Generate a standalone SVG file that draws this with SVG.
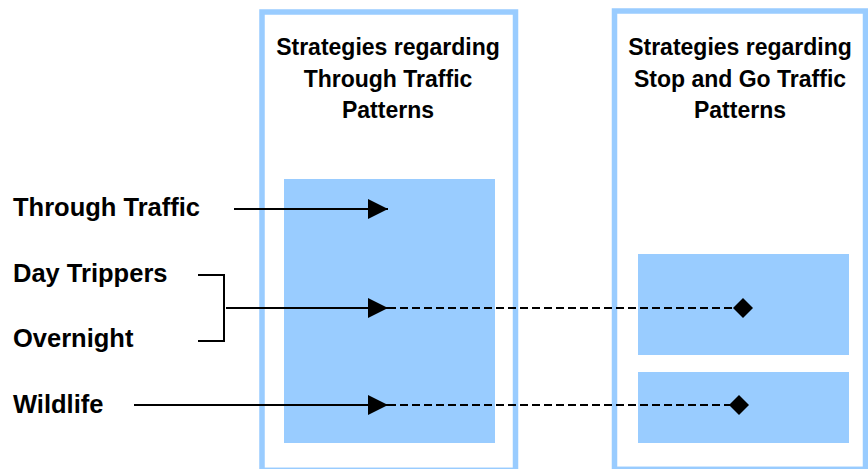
<svg xmlns="http://www.w3.org/2000/svg" width="868" height="469" viewBox="0 0 868 469">
  <style>
    .frame { fill: #ffffff; stroke: #99ccff; stroke-width: 5.5; }
    .block { fill: #99ccff; stroke: none; }
    .title { font-family: "Liberation Sans", Arial, sans-serif; font-weight: bold; font-size: 23px; fill: #000; text-anchor: middle; }
    .label { font-family: "Liberation Sans", Arial, sans-serif; font-weight: bold; font-size: 25.5px; fill: #000; }
    .solid { stroke: #000; stroke-width: 2; fill: none; }
    .dash { stroke: #000; stroke-width: 2; fill: none; stroke-dasharray: 8 4; }
  </style>
  <defs>
    <marker id="arrow" markerWidth="20" markerHeight="20" refX="20" refY="10" orient="auto" markerUnits="userSpaceOnUse" viewBox="0 0 20 20">
      <path d="M0,0 L20,10 L0,20 Z" fill="#000"/>
    </marker>
    <marker id="diamond" markerWidth="20" markerHeight="20" refX="10" refY="10" orient="auto" markerUnits="userSpaceOnUse" viewBox="0 0 20 20">
      <path d="M0,10 L10,0 L20,10 L10,20 Z" fill="#000"/>
    </marker>
  </defs>

  <!-- Column: through traffic strategies -->
  <g id="through-strategies">
    <rect class="frame" x="262" y="12" width="253.5" height="458.3"/>
    <text class="title" x="388" y="55">Strategies regarding</text>
    <text class="title" x="388" y="87">Through Traffic</text>
    <text class="title" x="388" y="118">Patterns</text>
    <rect class="block" x="284" y="179" width="211" height="264"/>
  </g>

  <!-- Column: stop and go strategies -->
  <g id="stopgo-strategies">
    <rect class="frame" x="614.5" y="11" width="251" height="458.3"/>
    <text class="title" x="740" y="55">Strategies regarding</text>
    <text class="title" x="740" y="87">Stop and Go Traffic</text>
    <text class="title" x="740" y="118">Patterns</text>
    <rect class="block" x="638" y="254" width="211" height="101"/>
    <rect class="block" x="638" y="372" width="211" height="71"/>
  </g>

  <!-- Traveller categories -->
  <g id="through-traffic"><text class="label" x="13" y="216">Through Traffic</text></g>
  <g id="day-trippers"><text class="label" x="13" y="282">Day Trippers</text></g>
  <g id="overnight"><text class="label" x="13" y="347">Overnight</text></g>
  <g id="wildlife"><text class="label" x="13" y="413">Wildlife</text></g>

  <!-- Connectors -->
  <g id="connectors">
    <line class="solid" x1="234" y1="209" x2="388" y2="209" marker-end="url(#arrow)"/>
    <polyline class="solid" points="198,275 224,275 224,341 198,341"/>
    <line class="solid" x1="226" y1="308" x2="388" y2="308" marker-end="url(#arrow)"/>
    <line class="dash" x1="388" y1="308" x2="743" y2="308" marker-end="url(#diamond)"/>
    <line class="solid" x1="134" y1="405" x2="388" y2="405" marker-end="url(#arrow)"/>
    <line class="dash" x1="388" y1="405" x2="739" y2="405" marker-end="url(#diamond)"/>
  </g>
</svg>
